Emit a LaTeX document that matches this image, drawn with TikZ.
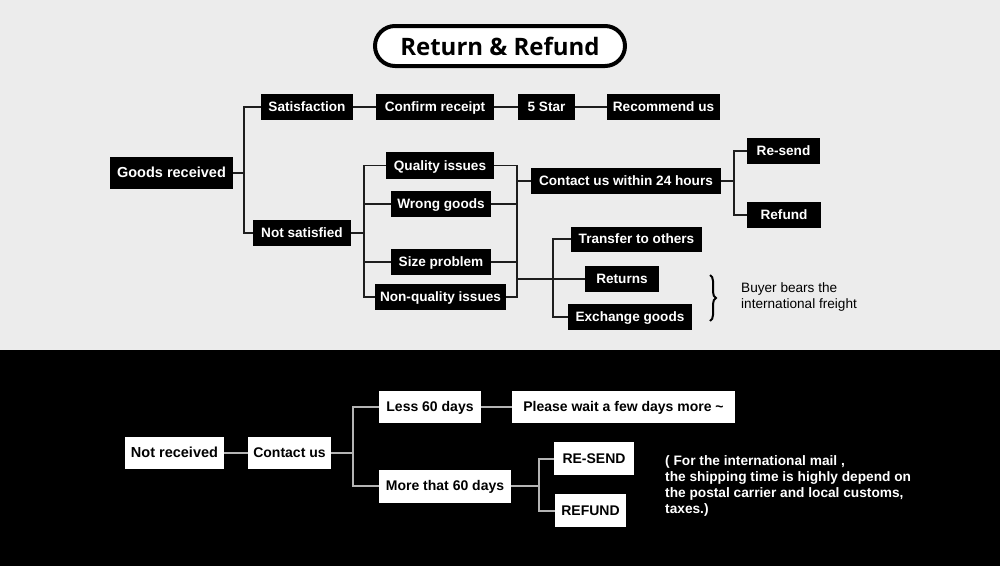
\documentclass[tikz,border=0pt]{standalone}
\usepackage{fontspec}
\setmainfont{Liberation Sans}
\newfontfamily\titlefont{Open Sans}
\usetikzlibrary{decorations.pathreplacing}
\definecolor{paper}{HTML}{ECECEC}
\definecolor{wire}{HTML}{1E1E1E}
\definecolor{greywire}{HTML}{B4B4B4}

\begin{document}
\begin{tikzpicture}[x=1pt, y=-1pt,
  dark/.style={fill=black, text=white, font=\bfseries\fontsize{13.6}{16}\selectfont,
    minimum height=26pt, inner xsep=0pt, inner ysep=0pt, text height=9.8pt, text depth=0.8pt},
  light/.style={fill=white, text=black, font=\bfseries\fontsize{14}{16}\selectfont,
    minimum height=32pt, inner xsep=0pt, inner ysep=0pt, text height=10pt, text depth=0.8pt},
  link/.style={draw=wire, line width=1.6pt},
  glink/.style={draw=greywire, line width=2pt}]

	\useasboundingbox (0,0) rectangle (1000,566);
	\fill[paper] (0,0) rectangle (1000,350);
	\fill[black] (0,350) rectangle (1000,566);

	% title
	\node[draw=black, line width=4pt, rounded corners=20pt, fill=white,
	      minimum width=250pt, minimum height=40pt,
	      font=\titlefont\bfseries\fontsize{24}{28}\selectfont] (title) at (500,46) {Return \& Refund};

	% goods received
	\node[dark, minimum width=123pt, minimum height=32pt, font=\bfseries\fontsize{14.5}{16}\selectfont] (goods) at (171.5,173) {Goods received};
	\node[dark, minimum width=92pt] (satis) at (307,107) {Satisfaction};
	\node[dark, minimum width=98pt] (notsat) at (302,233) {Not satisfied};
	\node[dark, minimum width=118pt] (confirm) at (435,107) {Confirm receipt};
	\node[dark, minimum width=57pt] (star) at (546.5,107) {5 Star};
	\node[dark, minimum width=113pt] (recommend) at (663.5,107) {Recommend us};
	\node[dark, minimum width=108pt, minimum height=27pt] (quality) at (440,165.5) {Quality issues};
	\node[dark, minimum width=100pt] (wrong) at (441,204) {Wrong goods};
	\node[dark, minimum width=100pt] (size) at (441,262) {Size problem};
	\node[dark, minimum width=131pt] (nonq) at (440.5,297) {Non-quality issues};
	\node[dark, minimum width=190pt] (contact) at (626,181) {Contact us within 24 hours};
	\node[dark, minimum width=73pt] (resend) at (783.5,151) {Re-send};
	\node[dark, minimum width=74pt] (refund) at (784,215) {Refund};
	\node[dark, minimum width=131pt, minimum height=25pt] (transfer) at (636.5,239) {Transfer to others};
	\node[dark, minimum width=74pt] (returns) at (622,279) {Returns};
	\node[dark, minimum width=124pt] (exchange) at (630,317) {Exchange goods};

	\coordinate (j1) at (244,173);
	\coordinate (j2) at (364,233);
	\coordinate (j3) at (517,181);
	\coordinate (j4) at (517,279);
	\coordinate (j5) at (553,279);
	\coordinate (j6) at (734,181);

	\draw[link] (goods) -- (j1) |- (satis);
	\draw[link] (j1) |- (notsat);
	\draw[link] (satis) -- (confirm) -- (star) -- (recommend);
	\draw[link] (notsat) -- (j2);
	\foreach \n in {quality,wrong,size,nonq} {
		\draw[link] (j2) |- (\n);
		\draw[link] (\n) -| (j3);
	}
	\draw[link] (j3) -- (contact);
	\draw[link] (contact) -- (j6);
	\draw[link] (j6) |- (resend);
	\draw[link] (j6) |- (refund);
	\draw[link] (j4) -- (returns);
	\draw[link] (j5) |- (transfer);
	\draw[link] (j5) |- (exchange);

	\draw[line width=2pt, decorate, decoration={brace, amplitude=6pt}] (710,275) -- (710,321);
	\node[anchor=north west, align=left, inner sep=0pt, font=\fontsize{13.6}{16}\selectfont] (buyer) at (741,282) {Buyer bears the\\international freight};

	% not received
	\node[light, minimum width=99pt, font=\bfseries\fontsize{14.5}{16}\selectfont] (notrec) at (174.5,453) {Not received};
	\node[light, minimum width=83pt] (contactus) at (289.5,453) {Contact us};
	\node[light, minimum width=102pt] (less) at (430,407) {Less 60 days};
	\node[light, minimum width=132pt, minimum height=33pt] (more) at (445,486) {More that 60 days};
	\node[light, minimum width=223pt] (wait) at (623.5,407) {Please wait a few days more \textasciitilde};
	\node[light, minimum width=80pt, minimum height=33pt] (resend2) at (594,458.5) {RE-SEND};
	\node[light, minimum width=71pt, minimum height=33pt] (refund2) at (590.5,510.5) {REFUND};

	\coordinate (j7) at (353,453);
	\coordinate (j8) at (539,486);

	\draw[glink] (notrec) -- (contactus) -- (j7);
	\draw[glink] (j7) |- (less);
	\draw[glink] (j7) |- (more);
	\draw[glink] (less) -- (wait);
	\draw[glink] (more) -- (j8);
	\draw[glink] (j8) |- (resend2);
	\draw[glink] (j8) |- (refund2);

	\node[anchor=north west, align=left, inner sep=0pt, text=white,
	      font=\bfseries\fontsize{13.7}{16}\selectfont] (note) at (665,455)
	      {( For the international mail ,\\the shipping time is highly depend on\\the postal carrier and local customs,\\taxes.)};
\end{tikzpicture}
\end{document}
